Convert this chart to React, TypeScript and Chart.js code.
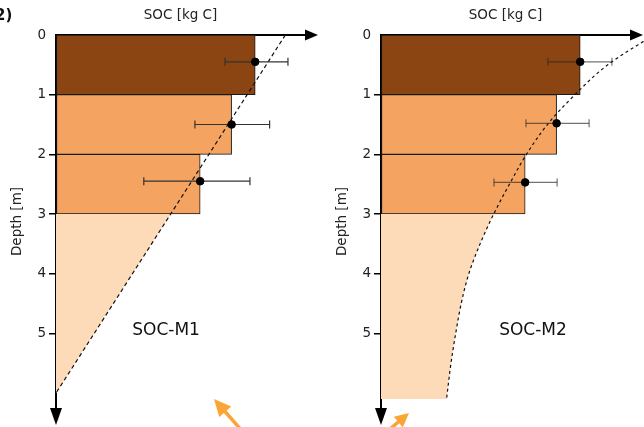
import React, { useEffect, useRef } from 'react';
import { Chart, registerables } from 'chart.js';

Chart.register(...registerables);

// ---------- data ----------
const depthTicks = [0, 1, 2, 3, 4, 5];
const layerMidDepth = [0.5, 1.5, 2.5];
const layerColors = ['#8B4513', '#F4A460', '#F4A460'];

// SOC-M1
const m1LayerSoc = [7.6, 6.7, 5.5];
const m1PointDepth = [0.45, 1.5, 2.45];
const m1ErrLow = [6.45, 5.3, 3.35];
const m1ErrHigh = [8.85, 8.15, 7.4];
const m1CurveDepth = [0, 6];
const m1CurveSoc = [8.75, 0];

// SOC-M2
const m2LayerSoc = [7.6, 6.7, 5.5];
const m2PointDepth = [0.45, 1.48, 2.47];
const m2ErrLow = [6.37, 5.53, 4.31];
const m2ErrHigh = [8.81, 7.94, 6.72];
const m2CurveDepth = [0, 0.5, 1, 1.5, 2, 2.5, 3, 3.5, 4, 4.5, 5, 5.5, 6.1];
const m2CurveSoc = [10.4, 8.65, 7.4, 6.35, 5.55, 4.9, 4.3, 3.78, 3.35, 3.06, 2.85, 2.67, 2.5];

const fillFromDepth = 3;

const FONT = 'DejaVu Sans';
Chart.defaults.font.family = FONT;

type PanelSpec = {
  label: string;
  labelAt: { x: number; y: number };
  layerSoc: number[];
  pointDepth: number[];
  errLow: number[];
  errHigh: number[];
  curveDepth: number[];
  curveSoc: number[];
  axisLeft: number;
  padRight: number;
  yTitlePad: number;
  dash: number[];
  errColor: string;
  smooth: boolean;
  extra?: (ctx: CanvasRenderingContext2D) => void;
};

function arrowHead(ctx: CanvasRenderingContext2D, tx: number, ty: number, dx: number, dy: number, len: number, hw: number, color: string) {
  const n = Math.hypot(dx, dy);
  const ux = dx / n, uy = dy / n;
  const bx = tx - ux * len, by = ty - uy * len;
  ctx.beginPath();
  ctx.moveTo(tx, ty);
  ctx.lineTo(bx - uy * hw, by + ux * hw);
  ctx.lineTo(bx + uy * hw, by - ux * hw);
  ctx.closePath();
  ctx.fillStyle = color;
  ctx.fill();
}

function orangeArrow(ctx: CanvasRenderingContext2D, x0: number, y0: number, x1: number, y1: number, len: number, hw: number) {
  const col = '#FBA536';
  const dx = x1 - x0, dy = y1 - y0;
  const n = Math.hypot(dx, dy);
  ctx.save();
  ctx.strokeStyle = col;
  ctx.lineWidth = 3.5;
  ctx.beginPath();
  ctx.moveTo(x0, y0);
  ctx.lineTo(x1 - (dx / n) * (len - 2), y1 - (dy / n) * (len - 2));
  ctx.stroke();
  arrowHead(ctx, x1, y1, dx, dy, len, hw, col);
  ctx.restore();
}

function buildConfig(s: PanelSpec): any {
  const pts = s.layerSoc.map((v, i) => ({ x: v, y: s.pointDepth[i] }));
  const bars = s.layerSoc.map((v, i) => ({ x: v, y: layerMidDepth[i] }));
  const curve = s.curveDepth.map((d, i) => ({ x: s.curveSoc[i], y: d }));
  let fillPts = curve.filter((p) => p.y >= fillFromDepth);
  if (fillPts.length && fillPts[0].y > fillFromDepth) {
    const a = curve[0], b = curve[curve.length - 1];
    const t = (fillFromDepth - a.y) / (b.y - a.y);
    fillPts = [{ x: a.x + (b.x - a.x) * t, y: fillFromDepth }, ...fillPts];
  }
  const errSets = s.errLow.map((lo, i) => ({
    type: 'line',
    data: [
      { x: lo, y: s.pointDepth[i] },
      { x: s.errHigh[i], y: s.pointDepth[i] },
    ],
    borderColor: s.errColor,
    borderWidth: 1.2,
    pointStyle: 'line',
    pointRotation: 90,
    pointRadius: 4,
    pointBorderWidth: 1.2,
    pointBorderColor: s.errColor,
    fill: false,
    order: 1,
  }));

  const lineShape = s.smooth ? { cubicInterpolationMode: 'monotone' } : { tension: 0 };

  const decor = {
    id: 'decor',
    afterDraw(chart: any) {
      const { ctx, chartArea, scales } = chart;
      ctx.save();
      arrowHead(ctx, chartArea.right + 13, chartArea.top, 1, 0, 13, 5.5, '#000');
      arrowHead(ctx, chartArea.left, chartArea.bottom + 17, 0, 1, 17, 6, '#000');
      ctx.fillStyle = '#111';
      ctx.font = `17px "${FONT}"`;
      ctx.textAlign = 'center';
      ctx.textBaseline = 'middle';
      ctx.fillText(s.label, scales.x.getPixelForValue(s.labelAt.x), scales.y.getPixelForValue(s.labelAt.y));
      if (s.extra) s.extra(ctx);
      ctx.restore();
    },
  };

  return {
    type: 'bar',
    data: {
      datasets: [
        {
          type: 'scatter',
          data: pts,
          pointRadius: 3.8,
          pointBackgroundColor: '#000',
          pointBorderColor: '#000',
          showLine: false,
          order: 0,
        },
        ...errSets,
        {
          type: 'line',
          data: curve,
          borderColor: '#111',
          borderWidth: 1.2,
          borderDash: s.dash,
          pointRadius: 0,
          fill: false,
          clip: false,
          order: 2,
          ...lineShape,
        },
        {
          type: 'line',
          data: fillPts,
          borderWidth: 0,
          borderColor: 'rgba(0,0,0,0)',
          backgroundColor: '#FDDBB8',
          pointRadius: 0,
          fill: 'origin',
          order: 3,
          ...lineShape,
        },
        {
          type: 'bar',
          data: bars,
          backgroundColor: layerColors,
          borderColor: '#1a1a1a',
          borderWidth: 1,
          borderSkipped: false,
          barPercentage: 1,
          categoryPercentage: 1,
          order: 4,
        },
      ],
    },
    options: {
      indexAxis: 'y',
      responsive: false,
      animation: false,
      devicePixelRatio: 1,
      layout: { padding: { left: 0, right: s.padRight, top: 0, bottom: 19 } },
      plugins: { legend: { display: false }, tooltip: { enabled: false } },
      scales: {
        x: {
          type: 'linear',
          position: 'top',
          min: 0,
          max: 9.5,
          offset: false,
          ticks: { display: false },
          grid: { display: true, drawOnChartArea: false, drawTicks: false, offset: false },
          border: { display: true, color: '#000', width: 2 },
          title: {
            display: true,
            text: 'SOC [kg C]',
            color: '#222',
            font: { family: FONT, size: 13.5 },
            padding: { top: 7, bottom: 0 },
          },
          afterFit(scale: any) {
            scale.height = 35;
          },
        },
        y: {
          type: 'linear',
          position: 'left',
          reverse: true,
          min: 0,
          max: 6.25,
          offset: false,
          afterBuildTicks(scale: any) {
            scale.ticks = depthTicks.map((v) => ({ value: v }));
          },
          ticks: {
            color: '#222',
            font: { family: FONT, size: 13.5 },
            padding: 3,
            autoSkip: false,
          },
          grid: {
            display: true,
            drawOnChartArea: false,
            drawTicks: true,
            tickLength: 7,
            offset: false,
            lineWidth: 1.5,
            color: (c: any) => (c.tick && c.tick.value === 0 ? 'rgba(0,0,0,0)' : '#000'),
          },
          border: { display: true, color: '#000', width: 2 },
          title: {
            display: true,
            text: 'Depth [m]',
            color: '#222',
            font: { family: FONT, size: 13.5 },
            padding: { top: s.yTitlePad, bottom: 0 },
          },
          afterFit(scale: any) {
            scale.width = s.axisLeft;
          },
        },
      },
    },
    plugins: [decor],
  };
}

const leftSpec: PanelSpec = {
  label: 'SOC-M1',
  labelAt: { x: 4.2, y: 4.95 },
  layerSoc: m1LayerSoc,
  pointDepth: m1PointDepth,
  errLow: m1ErrLow,
  errHigh: m1ErrHigh,
  curveDepth: m1CurveDepth,
  curveSoc: m1CurveSoc,
  axisLeft: 56,
  padRight: 17,
  yTitlePad: 9,
  dash: [4, 3],
  errColor: '#333',
  smooth: false,
  extra: (ctx) => {
    orangeArrow(ctx, 243, 432, 214, 399, 17, 8);
    ctx.fillStyle = '#111';
    ctx.font = `bold 15px "${FONT}"`;
    ctx.textAlign = 'left';
    ctx.textBaseline = 'middle';
    ctx.fillText('2)', -5, 16);
  },
};

const rightSpec: PanelSpec = {
  label: 'SOC-M2',
  labelAt: { x: 5.8, y: 4.95 },
  layerSoc: m2LayerSoc,
  pointDepth: m2PointDepth,
  errLow: m2ErrLow,
  errHigh: m2ErrHigh,
  curveDepth: m2CurveDepth,
  curveSoc: m2CurveSoc,
  axisLeft: 59,
  padRight: 14,
  yTitlePad: 12,
  dash: [3, 3],
  errColor: 'rgba(40,40,40,0.65)',
  smooth: true,
  extra: (ctx) => {
    orangeArrow(ctx, 62, 434, 87, 413, 14, 7);
  },
};

function Panel({ spec }: { spec: PanelSpec }) {
  const ref = useRef<HTMLCanvasElement | null>(null);
  useEffect(() => {
    if (!ref.current) return;
    const chart = new Chart(ref.current, buildConfig(spec));
    return () => chart.destroy();
  }, [spec]);
  return <canvas ref={ref} width={322} height={427} style={{ display: 'block', width: 322, height: 427 }} />;
}

export default function App() {
  return (
    <div style={{ position: 'absolute', left: 0, top: 0, width: 644, height: 427, display: 'flex', background: '#fff', overflow: 'hidden' }}>
      <Panel spec={leftSpec} />
      <Panel spec={rightSpec} />
    </div>
  );
}
